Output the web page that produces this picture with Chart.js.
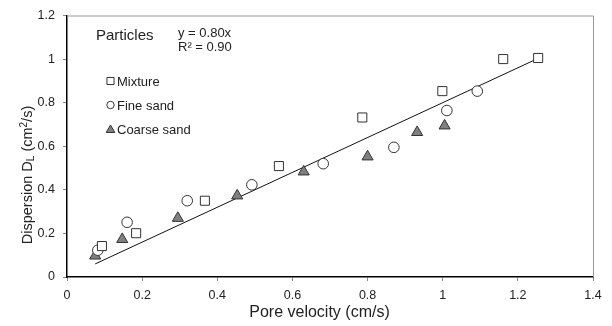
<!DOCTYPE html>
<html>
<head>
<meta charset="utf-8">
<script src="https://cdn.jsdelivr.net/npm/chart.js@4.4.0/dist/chart.umd.min.js"></script>
<style>
  html, body { margin: 0; padding: 0; background: #fff; }
  #wrap { width: 612px; height: 326px; }
</style>
</head>
<body>
<div id="wrap"><canvas id="myChart" width="612" height="326"></canvas></div>
<script>
// pore velocity (cm/s) vs dispersion DL (cm2/s)
const mixtureX = [0.093, 0.184, 0.367, 0.564, 0.786, 0.999, 1.161, 1.254];
const mixtureY = [0.142, 0.201, 0.35, 0.509, 0.732, 0.853, 1.0, 1.005];
const fineX = [0.082, 0.16, 0.32, 0.492, 0.682, 0.87, 1.011, 1.092];
const fineY = [0.123, 0.251, 0.35, 0.423, 0.52, 0.595, 0.764, 0.853];
const coarseX = [0.075, 0.147, 0.295, 0.453, 0.63, 0.8, 0.932, 1.005];
const coarseY = [0.097, 0.173, 0.27, 0.373, 0.483, 0.552, 0.664, 0.694];
// fitted line y = 0.80x
const trendX = [0.075, 1.25];
const trendY = [0.06, 1.0];
const xTicks = [0, 0.2, 0.4, 0.6, 0.8, 1, 1.2, 1.4];
const yTicks = [0, 0.2, 0.4, 0.6, 0.8, 1, 1.2];

const FONT = 'Liberation Sans, Arial, sans-serif';
const TEXT = '#222';

const toPoints = (xs, ys) => xs.map((x, i) => ({ x: x, y: ys[i] }));

// text, legend and the two light frame lines
const annotations = {
  id: 'annotations',
  afterDraw(chart) {
    const ctx = chart.ctx;
    const area = chart.chartArea;
    ctx.save();

    ctx.strokeStyle = '#999';
    ctx.lineWidth = 1;
    ctx.beginPath();
    ctx.moveTo(area.left, area.top + 0.5);
    ctx.lineTo(area.right + 0.5, area.top + 0.5);
    ctx.lineTo(area.right + 0.5, area.bottom);
    ctx.stroke();

    ctx.fillStyle = TEXT;
    ctx.textBaseline = 'alphabetic';
    ctx.textAlign = 'left';
    ctx.font = '15px ' + FONT;
    ctx.fillText('Particles', 96, 40);
    ctx.font = '13px ' + FONT;
    ctx.fillText('y = 0.80x', 178, 37);
    ctx.fillText('R\u00b2 = 0.90', 178, 51);

    // legend
    const items = chart.data.datasets.filter(d => d.inLegend);
    items.forEach((d, i) => {
      const cy = 81 + i * 24;
      ctx.fillStyle = d.backgroundColor;
      ctx.strokeStyle = d.borderColor;
      ctx.lineWidth = 1;
      Chart.helpers.drawPoint(ctx, {
        pointStyle: d.pointStyle,
        radius: d.pointStyle === 'circle' ? 3.7 : 5,
        rotation: 0,
        borderWidth: 1
      }, 110.5, d.pointStyle === 'triangle' ? cy + 1 : cy);
      ctx.fillStyle = TEXT;
      ctx.font = '13px ' + FONT;
      ctx.fillText(d.label, 117, cy + 5);
    });

    // x title
    ctx.font = '16px ' + FONT;
    ctx.textAlign = 'center';
    ctx.fillText('Pore velocity (cm/s)', 319.5, 316.5);

    // y title with subscript and superscript
    const parts = [
      ['Dispersion D', 14.5, 0],
      ['L', 10, 2],
      [' (cm', 14.5, 0],
      ['2', 10, -5],
      ['/s)', 14.5, 0]
    ];
    let total = 0;
    parts.forEach(p => { ctx.font = p[1] + 'px ' + FONT; total += ctx.measureText(p[0]).width; });
    ctx.translate(31.5, 175);
    ctx.rotate(-Math.PI / 2);
    ctx.textAlign = 'left';
    let px = -total / 2;
    parts.forEach(p => {
      ctx.font = p[1] + 'px ' + FONT;
      ctx.fillText(p[0], px, p[2]);
      px += ctx.measureText(p[0]).width;
    });
    ctx.restore();
  }
};

const ctx = document.getElementById('myChart');
new Chart(ctx, {
  type: 'scatter',
  data: {
    datasets: [
      {
        label: 'Mixture',
        inLegend: true,
        data: toPoints(mixtureX, mixtureY),
        pointStyle: 'rect',
        pointRadius: 6.4,
        backgroundColor: '#fff',
        borderColor: '#333',
        borderWidth: 1
      },
      {
        label: 'Fine sand',
        inLegend: true,
        data: toPoints(fineX, fineY),
        pointStyle: 'circle',
        pointRadius: 5.3,
        backgroundColor: '#fff',
        borderColor: '#333',
        borderWidth: 1
      },
      {
        label: 'Coarse sand',
        inLegend: true,
        data: toPoints(coarseX, coarseY),
        pointStyle: 'triangle',
        pointRadius: 6.4,
        backgroundColor: '#808080',
        borderColor: '#333',
        borderWidth: 1
      },
      {
        label: 'Fit',
        data: toPoints(trendX, trendY),
        showLine: true,
        pointRadius: 0,
        borderColor: '#111',
        borderWidth: 1
      }
    ]
  },
  options: {
    responsive: false,
    animation: false,
    events: [],
    layout: { padding: { left: 0, right: 19, top: 13, bottom: 0 } },
    plugins: {
      legend: { display: false },
      tooltip: { enabled: false }
    },
    scales: {
      x: {
        type: 'linear',
        min: 0,
        max: 1.4,
        afterBuildTicks: s => { s.ticks = xTicks.map(v => ({ value: v })); },
        afterFit: s => { s.height = 49; },
        ticks: {
          color: TEXT,
          font: { family: FONT, size: 12.5 },
          padding: 7,
          maxRotation: 0,
          callback: v => String(v)
        },
        grid: { drawOnChartArea: false, drawTicks: true, tickLength: 4, color: '#888' },
        border: { display: true, color: '#000', width: 1.5 }
      },
      y: {
        type: 'linear',
        min: 0,
        max: 1.2,
        afterBuildTicks: s => { s.ticks = yTicks.map(v => ({ value: v })); },
        afterFit: s => { s.width = 67; },
        ticks: {
          color: TEXT,
          font: { family: FONT, size: 12.5 },
          padding: 8,
          callback: v => String(v)
        },
        grid: { drawOnChartArea: false, drawTicks: true, tickLength: 4, color: '#888' },
        border: { display: true, color: '#000', width: 1.5 }
      }
    }
  },
  plugins: [annotations]
});
</script>
</body>
</html>
